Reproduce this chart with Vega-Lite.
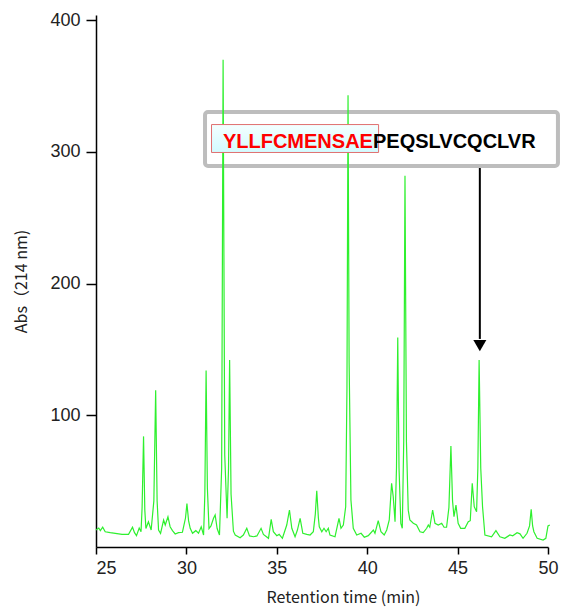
{
  "$schema": "https://vega.github.io/schema/vega-lite/v6.json",
  "width": 452,
  "height": 532,
  "autosize": "none",
  "padding": {"left": 96, "top": 15, "right": 21, "bottom": 63},
  "background": "white",
  "config": {"view": {"stroke": null}, "font": "Liberation Sans"},
  "datasets": {
    "trace": [
    {"t":25.0,"v":13},{"t":25.15,"v":14.4},{"t":25.24,"v":12.4},{"t":25.37,"v":15},{"t":25.51,"v":11.6},
    {"t":25.79,"v":10.9},{"t":26.07,"v":10.4},{"t":26.44,"v":9.6},{"t":26.8,"v":9.6},{"t":27.02,"v":15},
    {"t":27.13,"v":10.9},{"t":27.24,"v":8.6},{"t":27.39,"v":14.4},{"t":27.49,"v":11.6},{"t":27.55,"v":30},
    {"t":27.63,"v":84},{"t":27.7,"v":28},{"t":27.76,"v":14},{"t":27.9,"v":19.2},{"t":28.05,"v":12.9},
    {"t":28.2,"v":35},{"t":28.3,"v":119},{"t":28.38,"v":35},{"t":28.46,"v":12.9},{"t":28.57,"v":10.4},
    {"t":28.74,"v":20.5},{"t":28.83,"v":16.7},{"t":28.98,"v":23},{"t":29.1,"v":15.4},{"t":29.23,"v":12.4},
    {"t":29.38,"v":9.9},{"t":29.56,"v":10.9},{"t":29.78,"v":11.2},{"t":29.95,"v":22},{"t":30.03,"v":33},
    {"t":30.12,"v":20},{"t":30.21,"v":14.2},{"t":30.34,"v":10.4},{"t":30.52,"v":12.4},{"t":30.67,"v":10.4},
    {"t":30.82,"v":15.4},{"t":30.95,"v":9.1},{"t":31.02,"v":40},{"t":31.09,"v":134},{"t":31.16,"v":45},
    {"t":31.25,"v":14},{"t":31.36,"v":16},{"t":31.5,"v":21.8},{"t":31.59,"v":24.3},{"t":31.7,"v":14},
    {"t":31.83,"v":9.1},{"t":31.95,"v":60},{"t":32.03,"v":370},{"t":32.12,"v":70},{"t":32.25,"v":21.8},
    {"t":32.33,"v":60},{"t":32.39,"v":142},{"t":32.47,"v":40},{"t":32.6,"v":12},{"t":32.7,"v":9.1},
    {"t":32.97,"v":7},{"t":33.15,"v":9.1},{"t":33.34,"v":14.2},{"t":33.49,"v":8.4},{"t":33.71,"v":7.8},
    {"t":33.9,"v":8.4},{"t":34.13,"v":14.2},{"t":34.26,"v":9.6},{"t":34.54,"v":6.6},{"t":34.69,"v":21},
    {"t":34.81,"v":11.6},{"t":35.0,"v":8.6},{"t":35.13,"v":9.6},{"t":35.31,"v":6.6},{"t":35.46,"v":12.9},
    {"t":35.55,"v":16.7},{"t":35.7,"v":28.1},{"t":35.83,"v":14.2},{"t":36.01,"v":7.8},{"t":36.14,"v":12.9},
    {"t":36.29,"v":21.8},{"t":36.44,"v":10.4},{"t":36.66,"v":9.6},{"t":36.84,"v":9.1},{"t":37.02,"v":11.6},
    {"t":37.13,"v":25},{"t":37.21,"v":42.7},{"t":37.3,"v":22},{"t":37.35,"v":15.4},{"t":37.49,"v":11.6},
    {"t":37.61,"v":14.2},{"t":37.73,"v":11.6},{"t":37.85,"v":14.2},{"t":37.94,"v":9.1},{"t":38.22,"v":7.8},
    {"t":38.44,"v":21.8},{"t":38.55,"v":14.2},{"t":38.68,"v":16.7},{"t":38.81,"v":30.6},{"t":38.88,"v":120},
    {"t":38.94,"v":343},{"t":39.0,"v":140},{"t":39.1,"v":35.7},{"t":39.23,"v":14.2},{"t":39.42,"v":9.1},
    {"t":39.66,"v":10.4},{"t":39.84,"v":7.4},{"t":40.06,"v":8.6},{"t":40.34,"v":12.9},{"t":40.43,"v":10.4},
    {"t":40.61,"v":20},{"t":40.76,"v":11.6},{"t":40.94,"v":9.1},{"t":41.08,"v":12.9},{"t":41.22,"v":20.5},
    {"t":41.35,"v":48.4},{"t":41.44,"v":38.2},{"t":41.54,"v":19.2},{"t":41.62,"v":60},{"t":41.69,"v":159},
    {"t":41.76,"v":60},{"t":41.86,"v":18},{"t":41.94,"v":14.2},{"t":42.02,"v":80},{"t":42.09,"v":282},
    {"t":42.17,"v":80},{"t":42.27,"v":28},{"t":42.36,"v":20.5},{"t":42.55,"v":18},{"t":42.73,"v":16.7},
    {"t":42.92,"v":11.6},{"t":43.1,"v":10.9},{"t":43.29,"v":14.2},{"t":43.38,"v":16.7},{"t":43.46,"v":15},
    {"t":43.62,"v":28.1},{"t":43.75,"v":18},{"t":43.93,"v":16.7},{"t":44.12,"v":18},{"t":44.25,"v":15},
    {"t":44.39,"v":15},{"t":44.52,"v":30},{"t":44.63,"v":76.7},{"t":44.72,"v":35},{"t":44.8,"v":23},
    {"t":44.91,"v":31.9},{"t":45.03,"v":18},{"t":45.17,"v":14.2},{"t":45.4,"v":14.2},{"t":45.59,"v":19.2},
    {"t":45.7,"v":20},{"t":45.81,"v":48.4},{"t":45.92,"v":30.6},{"t":46.05,"v":26.8},{"t":46.12,"v":60},
    {"t":46.19,"v":142},{"t":46.28,"v":60},{"t":46.38,"v":30.6},{"t":46.51,"v":9.1},{"t":46.88,"v":7.8},
    {"t":47.12,"v":12.4},{"t":47.34,"v":7.8},{"t":47.61,"v":6.6},{"t":47.89,"v":9.1},{"t":48.05,"v":8.5},
    {"t":48.29,"v":10.9},{"t":48.45,"v":10},{"t":48.62,"v":6.6},{"t":48.84,"v":10.4},{"t":48.98,"v":16},
    {"t":49.07,"v":28.6},{"t":49.15,"v":16},{"t":49.22,"v":11.6},{"t":49.4,"v":6.6},{"t":49.73,"v":5.3},
    {"t":49.88,"v":6.6},{"t":50.0,"v":16},{"t":50.1,"v":16.7}
    ],
    "boxes": [
      {"name": "outer", "x0": 31.03, "x1": 50.55, "y0": 330.3, "y1": 289.3}
    ],
    "label": [
      {"name": "inner", "x0": 31.39, "x1": 40.63, "y0": 320.8, "y1": 299.6}
    ],
    "texts": [
      {"part": "YLLFCMENSAE", "tx": 32.02, "ty": 303, "kind": "fragment"},
      {"part": "PEQSLVCQCLVR", "tx": 40.32, "ty": 303, "kind": "rest"}
    ],
    "arrow": [
      {"ax": 46.23, "ay0": 287.8, "ay1": 158, "tip": 153}
    ]
  },
  "layer": [
    {
      "data": {"name": "boxes"},
      "mark": {"type": "rect", "filled": false, "stroke": "#bdbdbd", "strokeWidth": 4, "cornerRadius": 3},
      "encoding": {
        "x": {"field": "x0", "type": "quantitative"}, "x2": {"field": "x1"},
        "y": {"field": "y0", "type": "quantitative"}, "y2": {"field": "y1"}
      }
    },
    {
      "data": {"name": "trace"},
      "mark": {"type": "line", "color": "#2ef02e", "strokeWidth": 1.2, "interpolate": "linear"},
      "encoding": {
        "x": {
          "field": "t", "type": "quantitative",
          "scale": {"domain": [25, 50], "nice": false, "zero": false},
          "axis": {
            "values": [25, 30, 35, 40, 45, 50],
            "grid": false,
            "domainColor": "#000", "domainWidth": 1.5,
            "tickColor": "#000", "tickWidth": 1.5, "tickSize": 7,
            "labelFontSize": 18, "labelColor": "#222", "labelPadding": 5,
            "labelAlign": {"condition": {"test": "datum.value == 25", "value": "left"}, "value": "center"},
            "title": "Retention time (min)",
            "titleFont": "Noto Sans CJK JP", "titleFontSize": 16, "titleFontWeight": "normal",
            "titleColor": "#222", "titlePadding": 12, "titleX": 247
          }
        },
        "y": {
          "field": "v", "type": "quantitative",
          "scale": {"domain": [0, 404], "nice": false},
          "axis": {
            "values": [100, 200, 300, 400],
            "grid": false,
            "domainColor": "#000", "domainWidth": 1.5,
            "tickColor": "#000", "tickWidth": 1.5, "tickSize": 10,
            "labelFontSize": 18, "labelColor": "#222", "labelPadding": 6,
            "title": "Abs（214 nm)",
            "titleFont": "Noto Sans CJK JP", "titleFontSize": 16, "titleFontWeight": "normal",
            "titleColor": "#222", "titlePadding": 20
          }
        }
      }
    },
    {
      "data": {"name": "label"},
      "mark": {
        "type": "rect", "stroke": "#e07070", "strokeWidth": 1,
        "fill": {"gradient": "linear", "x1": 0, "y1": 0, "x2": 0, "y2": 1,
          "stops": [{"offset": 0, "color": "#f4ffff"}, {"offset": 1, "color": "#d2fbff"}]}
      },
      "encoding": {
        "x": {"field": "x0", "type": "quantitative"}, "x2": {"field": "x1"},
        "y": {"field": "y0", "type": "quantitative"}, "y2": {"field": "y1"}
      }
    },
    {
      "data": {"name": "texts"},
      "mark": {"type": "text", "font": "Liberation Sans",
        "fontWeight": "bold", "fontSize": 20, "align": "left", "baseline": "alphabetic"},
      "encoding": {
        "x": {"field": "tx", "type": "quantitative"},
        "y": {"field": "ty", "type": "quantitative"},
        "text": {"field": "part"},
        "color": {"field": "kind", "type": "nominal",
          "scale": {"domain": ["fragment", "rest"], "range": ["#ff0000", "#000000"]}, "legend": null}
      }
    },
    {
      "data": {"name": "arrow"},
      "mark": {"type": "rule", "color": "#000", "strokeWidth": 2},
      "encoding": {
        "x": {"field": "ax", "type": "quantitative"},
        "y": {"field": "ay0", "type": "quantitative"}, "y2": {"field": "ay1"}
      }
    },
    {
      "data": {"name": "arrow"},
      "mark": {"type": "point", "shape": "triangle-down", "filled": true, "color": "#000", "size": 170, "opacity": 1},
      "encoding": {
        "x": {"field": "ax", "type": "quantitative"},
        "y": {"field": "tip", "type": "quantitative"}
      }
    }
  ]
}
